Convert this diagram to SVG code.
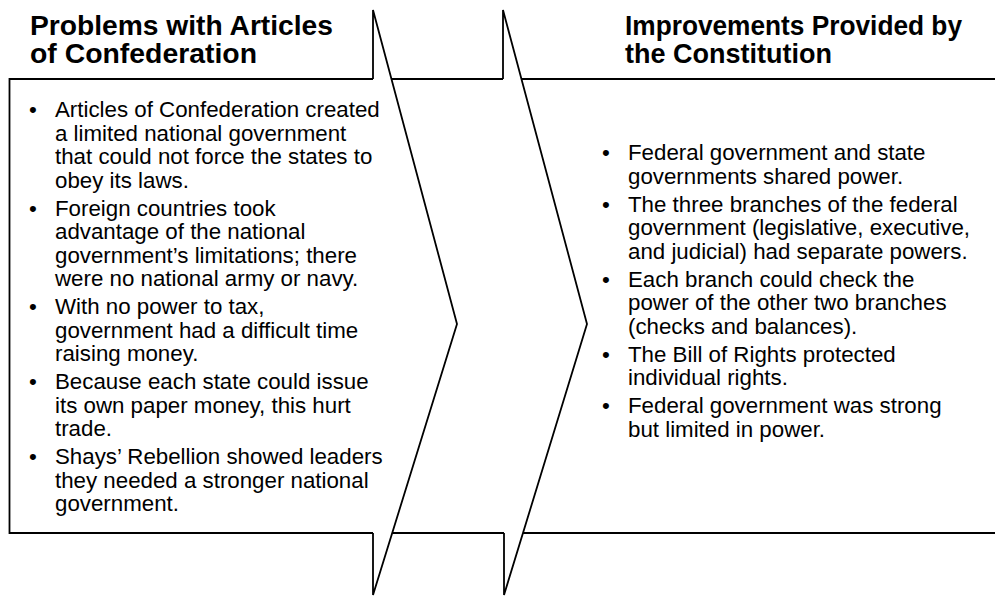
<svg xmlns="http://www.w3.org/2000/svg" width="995" height="596" viewBox="0 0 995 596">
<style>
.ln{fill:none;stroke:#000;stroke-width:1.8;stroke-linejoin:miter}
.h{font-family:"Liberation Sans",Arial,sans-serif;font-weight:bold;font-size:27px;fill:#000}
.b{font-family:"Liberation Sans",Arial,sans-serif;font-size:22.3px;fill:#000}
</style>
<rect width="995" height="596" fill="#fff"/>
<g id="connectors">
<path class="ln" d="M373,79 V10 L457,324 L373,595 V533"/>
<path class="ln" d="M503,79 V10 L587,324 L504,595 V533"/>
<path class="ln" d="M391.5,79 H503 M392,533 H504"/>
</g>
<g id="problems">
<path class="ln" d="M373,79 H9.5 V533 H373"/>
<text class="h" x="30" y="35" textLength="303" lengthAdjust="spacingAndGlyphs">Problems with Articles</text>
<text class="h" x="30" y="63" textLength="227" lengthAdjust="spacingAndGlyphs">of Confederation</text>
<g class="b">
<text x="29" y="117">•</text>
<text x="55" y="117">Articles of Confederation created</text>
<text x="55" y="140.5">a limited national government</text>
<text x="55" y="164">that could not force the states to</text>
<text x="55" y="187.5">obey its laws.</text>
<text x="29" y="215.5">•</text>
<text x="55" y="215.5">Foreign countries took</text>
<text x="55" y="239">advantage of the national</text>
<text x="55" y="262.5">government’s limitations; there</text>
<text x="55" y="286">were no national army or navy.</text>
<text x="29" y="314">•</text>
<text x="55" y="314">With no power to tax,</text>
<text x="55" y="337.5">government had a difficult time</text>
<text x="55" y="361">raising money.</text>
<text x="29" y="389">•</text>
<text x="55" y="389">Because each state could issue</text>
<text x="55" y="412.5">its own paper money, this hurt</text>
<text x="55" y="436">trade.</text>
<text x="29" y="464">•</text>
<text x="55" y="464">Shays’ Rebellion showed leaders</text>
<text x="55" y="487.5">they needed a stronger national</text>
<text x="55" y="511">government.</text>
</g>
</g>
<g id="improvements">
<path class="ln" d="M521.5,79 H995 M523,533 H995"/>
<text class="h" x="625" y="35" textLength="337" lengthAdjust="spacingAndGlyphs">Improvements Provided by</text>
<text class="h" x="625" y="63">the Constitution</text>
<g class="b">
<text x="602" y="160">•</text>
<text x="628" y="160">Federal government and state</text>
<text x="628" y="183.5">governments shared power.</text>
<text x="602" y="211.5">•</text>
<text x="628" y="211.5">The three branches of the federal</text>
<text x="628" y="235">government (legislative, executive,</text>
<text x="628" y="258.5">and judicial) had separate powers.</text>
<text x="602" y="286.5">•</text>
<text x="628" y="286.5">Each branch could check the</text>
<text x="628" y="310">power of the other two branches</text>
<text x="628" y="333.5">(checks and balances).</text>
<text x="602" y="361.5">•</text>
<text x="628" y="361.5">The Bill of Rights protected</text>
<text x="628" y="385">individual rights.</text>
<text x="602" y="413">•</text>
<text x="628" y="413">Federal government was strong</text>
<text x="628" y="436.5">but limited in power.</text>
</g>
</g>
</svg>
